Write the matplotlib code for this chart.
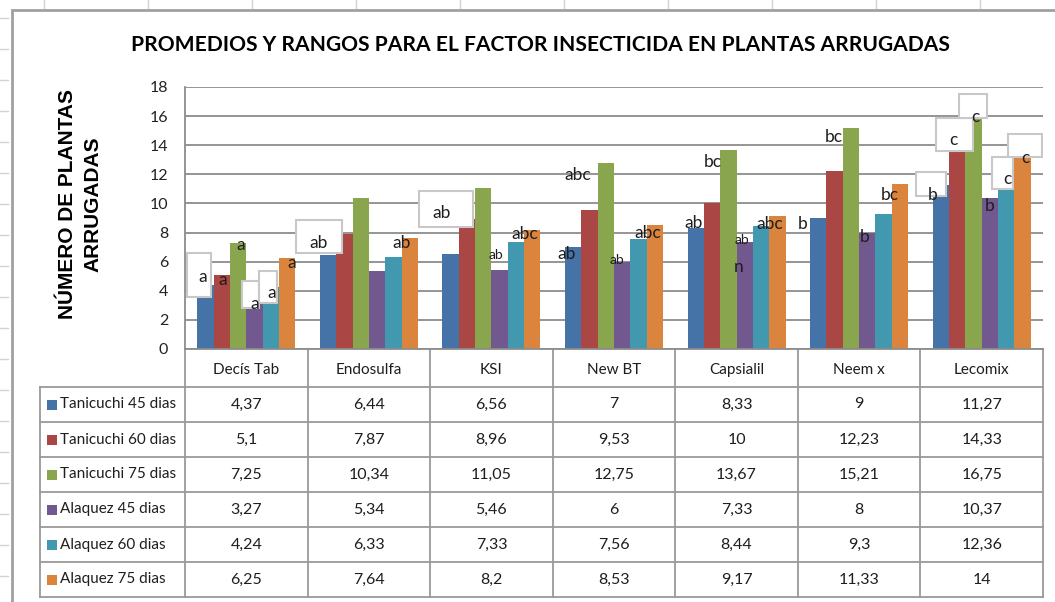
import matplotlib
matplotlib.use('Agg')
import matplotlib.pyplot as plt
from matplotlib.patches import Rectangle
from matplotlib import font_manager

# ---------------- data ----------------
categories = ['Decís Tab', 'Endosulfa', 'KSI', 'New BT', 'Capsialil', 'Neem x', 'Lecomix']
series_names = ['Tanicuchi 45 dias', 'Tanicuchi 60 dias', 'Tanicuchi 75 dias',
                'Alaquez 45 dias', 'Alaquez 60 dias', 'Alaquez 75 dias']
tanicuchi_45 = [4.37, 6.44, 6.56, 7, 8.33, 9, 11.27]
tanicuchi_60 = [5.1, 7.87, 8.96, 9.53, 10, 12.23, 14.33]
tanicuchi_75 = [7.25, 10.34, 11.05, 12.75, 13.67, 15.21, 16.75]
alaquez_45 = [3.27, 5.34, 5.46, 6, 7.33, 8, 10.37]
alaquez_60 = [4.24, 6.33, 7.33, 7.56, 8.44, 9.3, 12.36]
alaquez_75 = [6.25, 7.64, 8.2, 8.53, 9.17, 11.33, 14]
series_values = [tanicuchi_45, tanicuchi_60, tanicuchi_75, alaquez_45, alaquez_60, alaquez_75]
y_ticks = [0, 2, 4, 6, 8, 10, 12, 14, 16, 18]

title = 'PROMEDIOS Y RANGOS PARA EL FACTOR INSECTICIDA EN PLANTAS ARRUGADAS'
y_label = 'NÚMERO DE PLANTAS\nARRUGADAS'

# significance letters: (category, series, text)
letter_texts = [
    (0, 0, 'a'), (0, 1, 'a'), (0, 2, 'a'), (0, 3, 'a'), (0, 4, 'a'), (0, 5, 'a'),
    (1, 0, 'ab'), (1, 5, 'ab'),
    (2, 1, 'ab'), (2, 3, 'ab'), (2, 5, 'abc'),
    (3, 0, 'ab'), (3, 2, 'abc'), (3, 3, 'ab'), (3, 5, 'abc'),
    (4, 0, 'ab'), (4, 2, 'bc'), (4, 3, 'ab'), (4, 3, 'n'), (4, 5, 'abc'),
    (5, 0, 'b'), (5, 2, 'bc'), (5, 3, 'b'), (5, 5, 'bc'),
    (6, 0, 'b'), (6, 1, 'c'), (6, 2, 'c'), (6, 3, 'b'), (6, 4, 'c'), (6, 5, 'c'),
]

# ---------------- layout / style ----------------
colors = ['#4572A7', '#AA4643', '#89A54E', '#71588F', '#4198AF', '#DB843D']
# per label: (dx, y, fontsize, box) ; box = (dx0, dx1, y_top, y_bottom) relative to bar centre
letter_layout = [
    (-0.02, 4.95, 12.5, (-0.15, 0.046, 6.6, 3.57)), (0.01, 4.74, 12.5, None),
    (0.024, 7.14, 12.5, None), (0.0, 3.09, 12.5, (-0.102, 0.037, 4.67, 2.82)),
    (0.01, 3.85, 12.5, (-0.096, 0.05, 5.36, 3.16)), (0.04, 5.9, 12.5, None),
    (-0.08, 7.28, 12.5, (-0.26, 0.114, 8.86, 6.6)), (-0.07, 7.28, 12.5, None),
    (-0.21, 9.34, 12.5, (-0.39, 0.05, 10.85, 8.38)), (-0.03, 6.46, 10, None), (-0.06, 7.9, 12.5, None),
    (-0.05, 6.52, 12.5, None), (-0.23, 11.95, 12.5, None), (-0.04, 6.1, 10, None), (-0.055, 8.0, 12.5, None),
    (-0.02, 8.65, 12.5, None), (-0.13, 12.85, 12.5, None), (-0.02, 7.5, 10, None),
    (-0.05, 5.63, 12.5, None), (-0.06, 8.6, 12.5, None),
    (-0.125, 8.6, 12.5, None), (-0.14, 14.56, 12.5, None), (-0.02, 7.7, 12.5, None), (-0.08, 10.58, 12.5, None),
    (-0.064, 10.58, 12.5, (-0.2, 0.042, 12.16, 10.51)), (-0.034, 14.36, 12.5, (-0.173, 0.129, 15.87, 13.6)),
    (0.012, 15.94, 12.5, (-0.119, 0.109, 17.52, 15.87)), (0.0, 9.82, 12.5, None),
    (0.007, 11.68, 12.5, (-0.116, 0.055, 13.19, 10.99)), (0.02, 13.12, 12.5, (-0.118, 0.159, 14.77, 13.19)),
]

names = {f.name for f in font_manager.fontManager.ttflist}
body_font = 'Lato' if 'Lato' in names else 'DejaVu Sans'
title_font = 'Liberation Sans Narrow' if 'Liberation Sans Narrow' in names else body_font
arial = 'Liberation Sans' if 'Liberation Sans' in names else 'DejaVu Sans'
plt.rcParams['font.family'] = [body_font, 'DejaVu Sans']

W, H = 1055, 602
L, R, T, B = 185, 1043, 87, 349
fig = plt.figure(figsize=(W / 100, H / 100), dpi=100)
fig.patch.set_facecolor('white')

ov = fig.add_axes([0, 0, 1, 1], zorder=0)
ov.set_xlim(0, W)
ov.set_ylim(H, 0)
ov.axis('off')

# spreadsheet ruler marks outside the chart frame
for yy in range(18, H, 31):
    ov.plot([0, 8], [yy, yy], color='#cdd2dc', lw=1)
for xx in range(44, W, 104):
    ov.plot([xx, xx], [0, 8], color='#cdd2dc', lw=1)
# chart frame
ov.plot([12, 12, W], [H, 10, 10], color='#a0a0a0', lw=2, solid_joinstyle='miter')

# ---------------- main axes ----------------
ax = fig.add_axes([L / W, 1 - B / H, (R - L) / W, (B - T) / H], zorder=1)
ax.patch.set_alpha(0)
ax.set_xlim(-0.5, len(categories) - 0.5)
ax.set_ylim(0, 18)
ax.set_yticks(y_ticks)
ax.set_xticks([])
ax.yaxis.grid(True, color='#8c8c8c', lw=1.3)
ax.set_axisbelow(True)
for s in ['top', 'right']:
    ax.spines[s].set_visible(False)
for s in ['left', 'bottom']:
    ax.spines[s].set_color('#8c8c8c')
    ax.spines[s].set_linewidth(1.3)
ax.tick_params(axis='y', length=0, pad=12, labelsize=11.5, labelcolor='#222222')

n = len(series_values)
w = 0.8 / n
xs = list(range(len(categories)))
for i, vals in enumerate(series_values):
    ax.bar([x - 0.4 + (i + 0.5) * w for x in xs], vals, w, color=colors[i],
           edgecolor='none', zorder=2)

for (c, i, t), (dx, y, fs, box) in zip(letter_texts, letter_layout):
    xc = c - 0.4 + (i + 0.5) * w
    if box is not None:
        dx0, dx1, ytop, ybot = box
        ax.add_patch(Rectangle((xc + dx0, ybot), dx1 - dx0, ytop - ybot,
                               facecolor='white', edgecolor='#c8c8c8', lw=1.5, zorder=3))
    ax.text(xc + dx, y, t, ha='center', va='center', fontsize=fs, color='#1e1e1e', zorder=4)

# ---------------- title / y label ----------------
tt = ov.text(540, 45, title, ha='center', va='center', fontsize=20, weight='bold',
             family=[title_font, 'DejaVu Sans'], color='black')
fig.canvas.draw()
bb = tt.get_window_extent()
tt.set_fontsize(20 * 815 / bb.width)

ov.text(80, 204, y_label, ha='center', va='center', rotation=90, fontsize=15,
        weight='bold', family=[arial, 'DejaVu Sans'], linespacing=1.4, color='black')

# ---------------- data table ----------------
grid_c = '#9a9a9a'
colw = (R - L) / len(categories)
row_top = 387
rowh = 35
bottom = row_top + rowh * n
LEG = 40
ov.plot([LEG, R], [row_top, row_top], color=grid_c, lw=1.3)
for k in range(1, n + 1):
    ov.plot([LEG, R], [row_top + k * rowh] * 2, color=grid_c, lw=1.3)
ov.plot([LEG, LEG], [row_top, bottom], color=grid_c, lw=1.3)
for j in range(len(categories) + 1):
    xx = L + j * colw
    ov.plot([xx, xx], [B, bottom], color=grid_c, lw=1.3)
for j, cat in enumerate(categories):
    ov.text(L + (j + 0.5) * colw, (B + row_top) / 2 + 2, cat, ha='center', va='center',
            fontsize=11, color='#1e1e1e')
for k, (name, vals) in enumerate(zip(series_names, series_values)):
    yc = row_top + (k + 0.5) * rowh
    ov.add_patch(Rectangle((47, yc - 5), 10, 10, facecolor=colors[k], edgecolor='none'))
    ov.text(60, yc, name, ha='left', va='center', fontsize=11, color='#1e1e1e')
    for j, v in enumerate(vals):
        ov.text(L + (j + 0.5) * colw, yc, f'{v:g}'.replace('.', ','), ha='center', va='center',
                fontsize=11.5, color='#1e1e1e')

fig.savefig('out.png', dpi=100, facecolor='white')
